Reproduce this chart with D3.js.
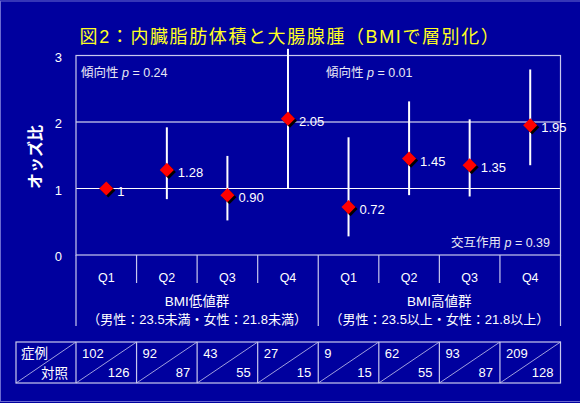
<!DOCTYPE html>
<html><head><meta charset="utf-8">
<script src="https://cdn.jsdelivr.net/npm/d3@7"></script>
<style>
html,body{margin:0;padding:0;background:#00009c;}
svg{display:block;}
text{font-family:"Liberation Sans","Noto Sans CJK JP",sans-serif;}
</style></head><body>
<script>
const categories = ["Q1","Q2","Q3","Q4","Q1","Q2","Q3","Q4"];
const oddsRatio = [1, 1.28, 0.90, 2.05, 0.72, 1.45, 1.35, 1.95];
const ciLow  = [null, 0.84, 0.52, 1.00, 0.28, 0.90, 0.88, 1.35];
const ciHigh = [null, 1.92, 1.49, 3.10, 1.77, 2.31, 2.04, 2.79];
const valueLabels = ["1","1.28","0.90","2.05","0.72","1.45","1.35","1.95"];
const cases    = [102, 92, 43, 27, 9, 62, 93, 209];
const controls = [126, 87, 55, 15, 15, 55, 87, 128];
const groups = ["BMI低値群","BMI高値群"];
const groupNotes = ["（男性：23.5未満・女性：21.8未満）","（男性：23.5以上・女性：21.8以上）"];
const yTicks = [0,1,2,3];

const W=580,H=403;
const L=76,R=560.5,T=55.5,B=255;
const svg=d3.select("body").append("svg").attr("width",W).attr("height",H);
svg.append("rect").attr("width",W).attr("height",H).attr("fill","#00009e");
svg.append("rect").attr("x",0.5).attr("y",1).attr("width",W+2).attr("height",H-2.5)
  .attr("fill","none").attr("stroke","#6a6ad0").attr("stroke-width",1);

const idx=d3.range(categories.length);
const x=d3.scaleBand().domain(idx).range([L,R]);
const y=d3.scaleLinear().domain([0,3]).range([B,T]);
const frame="#c8c8ee";

// title
svg.append("text").attr("x",290).attr("y",43).attr("text-anchor","middle")
  .attr("fill","#ffff22").attr("font-size",18).attr("letter-spacing",1.6)
  .attr("font-family","'Noto Sans CJK JP',sans-serif")
  .text("図2：内臓脂肪体積と大腸腺腫（BMIで層別化）");

// gridlines
svg.append("g").selectAll("line").data([1,2]).join("line")
  .attr("x1",L).attr("x2",R).attr("y1",d=>y(d)).attr("y2",d=>y(d))
  .attr("stroke","#ffffff").attr("stroke-width",1.2);

// frame
svg.append("rect").attr("x",L).attr("y",y(3)).attr("width",R-L).attr("height",y(0)-y(3))
  .attr("fill","none").attr("stroke",frame).attr("stroke-width",1.2);

// y axis ticks
const yAxis=d3.axisLeft(y).tickValues(yTicks).tickSize(0).tickPadding(14).tickFormat(d3.format("d"));
const ga=svg.append("g").attr("transform",`translate(${L},0)`).call(yAxis);
ga.select(".domain").remove();
ga.selectAll("text").attr("fill","#ffffff").attr("font-size",13).attr("dy","0.45em")
  .attr("font-family","'Liberation Sans',sans-serif");

svg.append("text").attr("transform","translate(41,157) rotate(-90)").attr("text-anchor","middle")
  .attr("fill","#ffffff").attr("font-size",16).attr("font-weight","bold")
  .attr("font-family","'Noto Sans CJK JP',sans-serif").text("オッズ比");

// bottom category dividers
const divs=d3.range(categories.length+1);
svg.append("g").selectAll("line").data(divs).join("line")
  .attr("x1",i=>i<categories.length?x(i):R).attr("x2",i=>i<categories.length?x(i):R)
  .attr("y1",B).attr("y2",i=>(i%4===0)?326:283)
  .attr("stroke",frame).attr("stroke-width",1.2);

svg.append("g").selectAll("text").data(idx).join("text")
  .attr("x",i=>x(i)+x.bandwidth()/2).attr("y",281.5).attr("text-anchor","middle")
  .attr("fill","#ffffff").attr("font-size",12.5).text(i=>categories[i]);

[0,1].forEach(g=>{
  const cx=(x(g*4)+ (g===1?R:x(4)))/2;
  svg.append("text").attr("x",cx).attr("y",306).attr("text-anchor","middle")
    .attr("fill","#ffffff").attr("font-size",13.5).text(groups[g]);
  svg.append("text").attr("x",cx).attr("y",324).attr("text-anchor","middle")
    .attr("fill","#ffffff").attr("font-size",13).attr("font-family","'Noto Sans CJK JP',sans-serif")
    .text(groupNotes[g]);
});

// annotations
const ann=svg.append("g").attr("fill","#e8e8f4").attr("font-size",12.5);
function pText(xp,yp,label,val,anchor){
  const t=ann.append("text").attr("x",xp).attr("y",yp).attr("text-anchor",anchor||"start");
  t.append("tspan").attr("font-family","'Noto Sans CJK JP',sans-serif").text(label);
  t.append("tspan").attr("font-style","italic").text(" p");
  t.append("tspan").text(" = "+val);
}
pText(81,77,"傾向性","0.24");
pText(326,77,"傾向性","0.01");
pText(550,247,"交互作用","0.39","end");

// error bars
const cx=i=>x(i)+x.bandwidth()/2;
svg.append("g").selectAll("line").data(idx.filter(i=>ciLow[i]!==null)).join("line")
  .attr("x1",cx).attr("x2",cx).attr("y1",i=>y(ciLow[i])).attr("y2",i=>y(ciHigh[i]))
  .attr("stroke","#ffffff").attr("stroke-width",2);

// diamonds
const dsym=d3.symbol().type(d3.symbolSquare).size(100);
svg.append("g").selectAll("path").data(idx).join("path")
  .attr("d",dsym).attr("transform",i=>`translate(${cx(i)+2},${y(oddsRatio[i])+2}) rotate(45)`)
  .attr("fill","#000000");
svg.append("g").selectAll("path").data(idx).join("path")
  .attr("d",dsym).attr("transform",i=>`translate(${cx(i)},${y(oddsRatio[i])}) rotate(45)`)
  .attr("fill","#ff0000");

svg.append("g").selectAll("text").data(idx).join("text")
  .attr("x",i=>cx(i)+11).attr("y",i=>y(oddsRatio[i])+7).attr("fill","#ffffff")
  .attr("font-size",13).text(i=>valueLabels[i]);

// table
const tT=342,tB=383,tL=16;
const cellX0=[tL].concat(idx.map(i=>x(i)));
const cellX1=[x(0)].concat(idx.map(i=>i<categories.length-1?x(i+1):R));
const tg=svg.append("g");
tg.append("rect").attr("x",tL).attr("y",tT).attr("width",R-tL).attr("height",tB-tT)
  .attr("fill","none").attr("stroke",frame).attr("stroke-width",1.2);
tg.selectAll("line.v").data(idx).join("line").attr("class","v")
  .attr("x1",i=>x(i)).attr("x2",i=>x(i)).attr("y1",tT).attr("y2",tB)
  .attr("stroke",frame).attr("stroke-width",1.2);
tg.selectAll("line.d").data(d3.range(cellX0.length)).join("line").attr("class","d")
  .attr("x1",j=>cellX0[j]).attr("y1",tB).attr("x2",j=>cellX1[j]).attr("y2",tT)
  .attr("stroke",frame).attr("stroke-width",0.8);
tg.append("text").attr("x",tL+5).attr("y",tT+16).attr("fill","#ffffff").attr("font-size",13.5)
  .attr("font-family","'Noto Sans CJK JP',sans-serif").text("症例");
tg.append("text").attr("x",x(0)-8).attr("y",tB-5).attr("text-anchor","end").attr("fill","#ffffff").attr("font-size",13.5)
  .attr("font-family","'Noto Sans CJK JP',sans-serif").text("対照");
tg.selectAll("text.c").data(idx).join("text").attr("class","c")
  .attr("x",i=>x(i)+6).attr("y",tT+16).attr("fill","#ffffff").attr("font-size",13).text(i=>cases[i]);
tg.selectAll("text.k").data(idx).join("text").attr("class","k")
  .attr("x",i=>x(i)+x.bandwidth()-7).attr("y",tB-6).attr("text-anchor","end")
  .attr("fill","#ffffff").attr("font-size",13).text(i=>controls[i]);
</script>
</body></html>
